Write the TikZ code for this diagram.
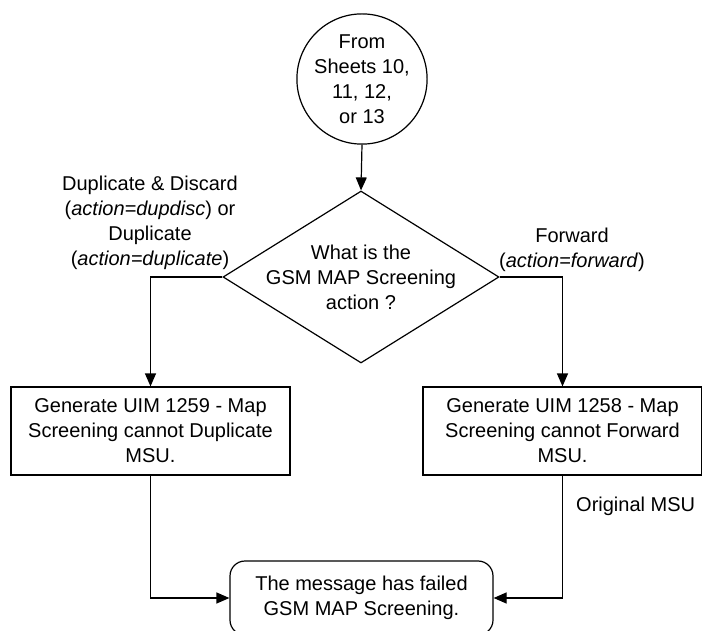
\documentclass[tikz,border=0pt]{standalone}
\usepackage{fontspec}
\setmainfont{Liberation Sans}
\usetikzlibrary{shapes.geometric,arrows.meta}
\begin{document}
\begin{tikzpicture}[x=1pt,y=-1pt,
  every node/.style={font=\fontsize{20}{25}\selectfont, inner sep=0pt, align=center},
  arr/.style={line width=1.2pt, -{Triangle[length=13pt,width=11pt]}},
  procbox/.style={draw, line width=1.2pt, minimum width=279pt, minimum height=88pt},
  termbox/.style={draw, line width=1.2pt, rounded corners=15pt, minimum width=263pt, minimum height=74pt},
  conn/.style={draw, circle, line width=1.2pt, minimum size=122pt},
  decision/.style={draw, diamond, line width=1.2pt, minimum width=276pt, minimum height=172pt},
  lbl/.style={}
]
\useasboundingbox (0,0) rectangle (702,631);
\clip (0,0) rectangle (702,631);

\node[conn] (start) at (362,79) {From\\Sheets 10,\\11, 12,\\or 13};
\node[decision] (dec) at (361,277) {};
\node (dectext) at (361,277) {What is the\\GSM MAP Screening\\action ?};
\node[procbox] (dup) at (150.5,431) {Generate UIM 1259 - Map\\Screening cannot Duplicate\\MSU.};
\node[procbox] (fwd) at (562.5,431) {Generate UIM 1258 - Map\\Screening cannot Forward\\MSU.};
\node[termbox] (fail) at (361.5,598) {The message has failed\\GSM MAP Screening.};

\node[lbl] (ldup) at (150,222.5) {Duplicate \& Discard\\(\textit{action=dupdisc}) or\\Duplicate\\(\textit{action=duplicate})};
\node[lbl] (lfwd) at (572,249.5) {Forward\\(\textit{action=forward})};
\node[lbl, anchor=west] (lorig) at (576,506) {Original MSU};

\draw[arr] (start.south) -- (dec.north);
\draw[arr] (dec.west) -| (dup.north);
\draw[arr] (dec.east) -| (fwd.north);
\draw[arr] (dup.south) |- (fail.west);
\draw[arr] (fwd.south) |- (fail.east);
\end{tikzpicture}
\end{document}
